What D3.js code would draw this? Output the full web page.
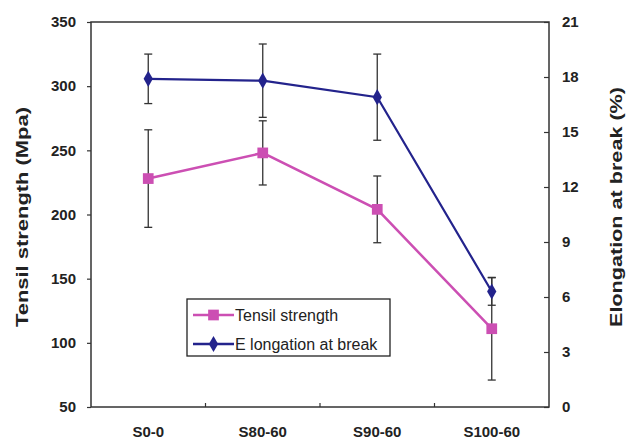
<!DOCTYPE html>
<html>
<head>
<meta charset="utf-8">
<script src="https://cdn.jsdelivr.net/npm/d3@7"></script>
<style>
  html, body { margin: 0; padding: 0; background: #fff; }
  svg { display: block; font-family: "Liberation Sans", Arial, sans-serif; }
</style>
</head>
<body>
<svg id="chart" width="627" height="442"></svg>
<script>
// Samples and measured properties
const categories = ["S0-0", "S80-60", "S90-60", "S100-60"];
const tensileStrength = [228, 248, 204, 111];      // MPa
const tensileError = [38, 25, 26, 40];
const elongation = [17.9, 17.8, 16.9, 6.3];        // %
const elongationError = [1.35, 2.0, 2.35, 0.75];
const leftTicks = [50, 100, 150, 200, 250, 300, 350];
const rightTicks = [0, 3, 6, 9, 12, 15, 18, 21];

const svg = d3.select("#chart");
const m = { left: 91, right: 549, top: 22, bottom: 407 };

const x = d3.scaleBand().domain(categories).range([m.left, m.right]);
const yL = d3.scaleLinear().domain([50, 350]).range([m.bottom, m.top]);
const yR = d3.scaleLinear().domain([0, 21]).range([m.bottom, m.top]);
const cx = c => x(c) + x.bandwidth() / 2;

const pink = "#cc4fb3";
const navy = "#23238c";
const axisColor = "#333";

// Frame
svg.append("rect")
  .attr("x", m.left).attr("y", m.top)
  .attr("width", m.right - m.left).attr("height", m.bottom - m.top)
  .attr("fill", "none").attr("stroke", axisColor).attr("stroke-width", 1.5);

// Left axis
const gl = svg.append("g").attr("transform", `translate(${m.left},0)`)
  .call(d3.axisLeft(yL).tickValues(leftTicks).tickSize(4).tickPadding(11));
// Right axis (ticks point inward)
const gr = svg.append("g").attr("transform", `translate(${m.right},0)`)
  .call(d3.axisRight(yR).tickValues(rightTicks).tickSize(0).tickPadding(13));
gr.selectAll(".tick").append("line").attr("x1", -5).attr("x2", 0);
// Bottom axis: ticks between categories, pointing up
const gb = svg.append("g").attr("transform", `translate(0,${m.bottom})`)
  .call(d3.axisBottom(x).tickSize(0).tickPadding(19));
svg.append("g").selectAll("line")
  .data(categories.slice(1))
  .join("line")
  .attr("x1", d => x(d)).attr("x2", d => x(d))
  .attr("y1", m.bottom).attr("y2", m.bottom - 4)
  .attr("stroke", axisColor).attr("stroke-width", 1.2);

[gl, gr, gb].forEach(g => {
  g.select(".domain").remove();
  g.selectAll(".tick line").attr("stroke", axisColor).attr("stroke-width", 1.2);
  g.selectAll(".tick text")
    .attr("fill", "#222").attr("font-size", 15).attr("font-weight", "bold")
    .attr("font-family", "'Liberation Sans', Arial, sans-serif");
});

// Axis titles
svg.append("text")
  .attr("transform", `translate(28,217) rotate(-90)`)
  .attr("text-anchor", "middle").attr("font-size", 17).attr("font-weight", "bold")
  .attr("textLength", 220).attr("lengthAdjust", "spacingAndGlyphs")
  .attr("fill", "#222").text("Tensil strength (Mpa)");
svg.append("text")
  .attr("transform", `translate(622,207) rotate(-90)`)
  .attr("text-anchor", "middle").attr("font-size", 17).attr("font-weight", "bold")
  .attr("textLength", 240).attr("lengthAdjust", "spacingAndGlyphs")
  .attr("fill", "#222").text("Elongation at break (%)");

// Error bars
function errorBars(vals, errs, y) {
  const g = svg.append("g").attr("stroke", "#333").attr("stroke-width", 1.3);
  vals.forEach((v, i) => {
    const px = cx(categories[i]);
    const top = y(v + errs[i]), bot = y(v - errs[i]);
    g.append("line").attr("x1", px).attr("x2", px).attr("y1", top).attr("y2", bot);
    g.append("line").attr("x1", px - 4).attr("x2", px + 4).attr("y1", top).attr("y2", top);
    g.append("line").attr("x1", px - 4).attr("x2", px + 4).attr("y1", bot).attr("y2", bot);
  });
}
errorBars(tensileStrength, tensileError, yL);
errorBars(elongation, elongationError, yR);

// Series lines
const lineL = d3.line().x((d, i) => cx(categories[i])).y(d => yL(d));
const lineR = d3.line().x((d, i) => cx(categories[i])).y(d => yR(d));
svg.append("path").attr("d", lineL(tensileStrength))
  .attr("fill", "none").attr("stroke", pink).attr("stroke-width", 2.5);
svg.append("path").attr("d", lineR(elongation))
  .attr("fill", "none").attr("stroke", navy).attr("stroke-width", 2.2);

// Markers
const square = d3.symbol().type(d3.symbolSquare).size(115);
const diamond = d3.symbol().type(d3.symbolDiamond).size(75);
svg.append("g").selectAll("path").data(tensileStrength).join("path")
  .attr("d", square)
  .attr("transform", (d, i) => `translate(${cx(categories[i])},${yL(d)})`)
  .attr("fill", pink);
svg.append("g").selectAll("path").data(elongation).join("path")
  .attr("d", diamond)
  .attr("transform", (d, i) => `translate(${cx(categories[i])},${yR(d)})`)
  .attr("fill", navy);

// Legend
const lg = svg.append("g");
lg.append("rect").attr("x", 187).attr("y", 299).attr("width", 203).attr("height", 57)
  .attr("fill", "#fff").attr("stroke", "#222").attr("stroke-width", 1.3);
const legendItems = [
  { label: "Tensil strength", color: pink, sym: square, y: 315 },
  { label: "E longation at break", color: navy, sym: diamond, y: 344 }
];
legendItems.forEach(it => {
  lg.append("line").attr("x1", 193).attr("x2", 234).attr("y1", it.y).attr("y2", it.y)
    .attr("stroke", it.color).attr("stroke-width", 2.5);
  lg.append("path").attr("d", it.sym).attr("transform", `translate(213.5,${it.y})`)
    .attr("fill", it.color);
  lg.append("text").attr("x", 235).attr("y", it.y + 5.5)
    .attr("font-size", 16).attr("fill", "#222").text(it.label);
});
</script>
</body>
</html>
